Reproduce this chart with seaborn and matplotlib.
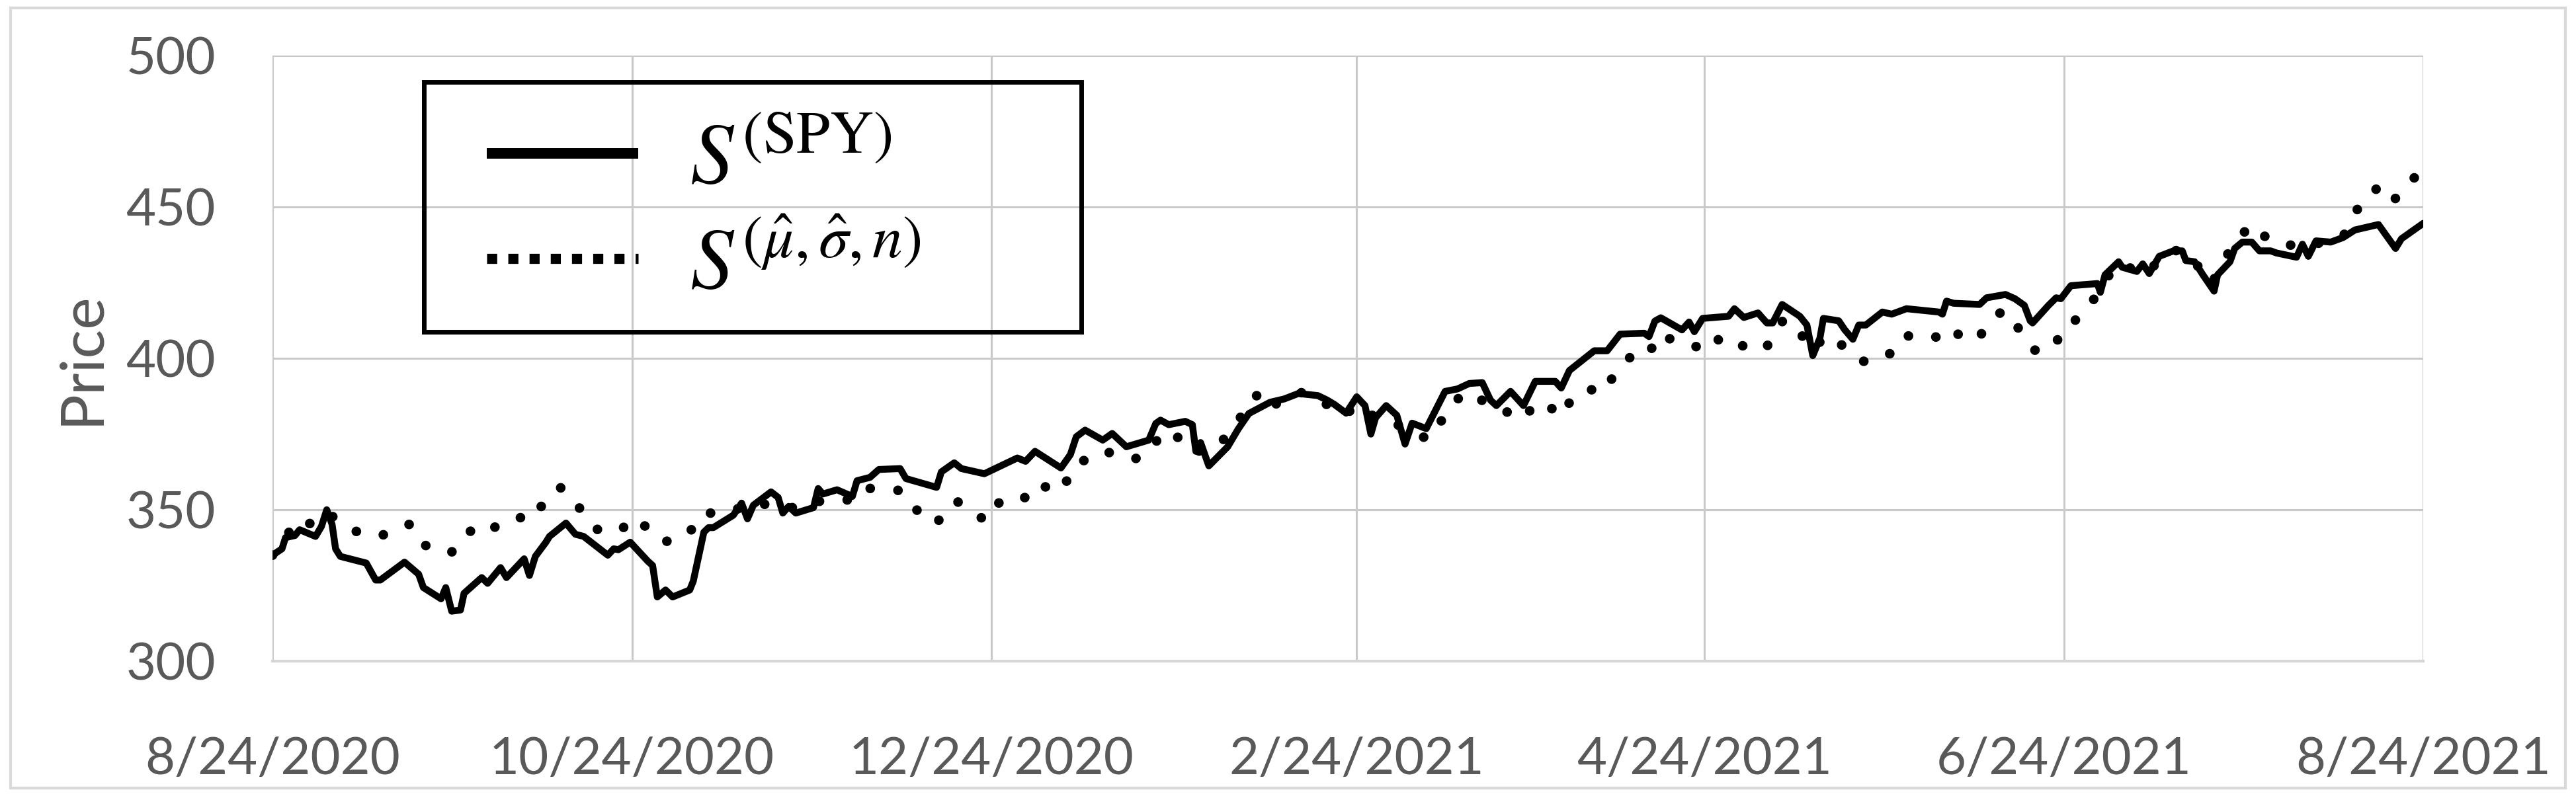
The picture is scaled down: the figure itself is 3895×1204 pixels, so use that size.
import pandas as pd
import numpy as np
import matplotlib
matplotlib.use('Agg')
import matplotlib.pyplot as plt
import matplotlib.dates as mdates
from matplotlib.lines import Line2D
from matplotlib.patches import Rectangle
import seaborn as sns

# dias contados a partir de 24/08/2020 e precos
start = pd.Timestamp('2020-08-24')

spy_days = [0, 1.6, 2.2, 3.8, 4.6, 7.3, 8.3, 9.2, 10.1, 10.7, 11.5, 15.9, 17.5, 18.3, 22.4, 24.8,
            25.6, 28.6, 29.4, 30.4, 31.9, 32.5, 35.5, 36.5, 38.7, 39.7, 42.7, 43.6, 44.6, 46.4,
            47.0, 49.8, 51.4, 52.8, 56.9, 57.9, 58.7, 60.7, 63.7, 64.5, 65.3, 66.7, 67.9, 70.8,
            71.4, 73.2, 74.0, 74.8, 78.2, 79.6, 80.6, 81.6, 84.6, 85.8, 86.6, 87.6, 88.8, 91.8,
            92.6, 93.4, 95.8, 98.4, 99.2, 101.4, 102.9, 106.5, 107.5, 112.7, 113.5, 115.7, 116.9,
            120.8, 126.4, 127.8, 129.4, 133.8, 135.4, 136.4, 137.9, 140.9, 142.5, 144.9, 148.7,
            149.9, 150.7, 152.1, 154.9, 156.1, 156.7, 157.5, 158.9, 162.1, 163.9, 165.7, 169.3,
            171.7, 174.1, 177.4, 179.0, 180.2, 182.2, 184.0, 185.4, 186.4, 187.2, 189.0, 190.8,
            192.2, 193.4, 195.8, 199.0, 201.1, 203.1, 205.3, 206.7, 207.7, 210.1, 212.3, 214.3,
            217.7, 218.7, 220.1, 224.3, 226.5, 228.7, 232.8, 233.6, 234.6, 235.6, 239.2, 240.4,
            241.3, 242.7, 247.1, 248.1, 249.7, 252.1, 253.6, 254.6, 256.2, 259.2, 260.4, 261.4,
            262.6, 263.2, 265.8, 266.8, 268.2, 269.2, 270.4, 273.2, 274.8, 277.3, 282.8, 283.4,
            284.1, 285.3, 289.7, 290.9, 294.1, 295.7, 297.3, 298.3, 298.7, 301.4, 302.7, 303.5,
            305.2, 309.7, 310.2, 311.0, 313.3, 313.9, 316.4, 317.4, 318.5, 320.2, 322.6, 324.1,
            324.7, 326.2, 327.6, 329.5, 330.1, 332.2, 333.0, 334.3, 335.9, 337.2, 339.1, 340.1,
            343.5, 344.5, 345.5, 346.8, 349.3, 351.4, 353.4, 357.4, 360.3, 361.3, 365.0]
spy_price = [335.0, 337.1, 340.8, 341.5, 343.4, 341.2, 344.5, 350.0, 345.2, 337.1, 334.6, 332.4,
             326.8, 326.8, 332.7, 328.7, 324.3, 320.6, 324.3, 316.5, 316.9, 322.4, 327.6, 325.7,
             330.9, 327.6, 333.8, 328.3, 334.6, 339.3, 341.2, 345.6, 341.9, 341.2, 335.0, 337.1,
             336.8, 339.3, 333.0, 331.6, 321.2, 323.5, 321.2, 323.5, 326.4, 342.6, 344.1, 344.1,
             348.2, 352.2, 347.0, 351.5, 355.9, 354.1, 348.9, 351.1, 348.9, 350.7, 357.0, 355.2,
             356.6, 354.4, 359.6, 360.7, 363.3, 363.6, 360.3, 357.4, 362.5, 365.5, 363.6, 361.9,
             367.1, 366.0, 369.3, 363.8, 368.2, 374.1, 376.3, 373.0, 375.2, 370.8, 373.0, 378.5,
             379.6, 378.1, 379.2, 378.1, 369.3, 372.2, 364.5, 370.8, 376.7, 381.8, 385.5, 386.6,
             388.4, 387.7, 386.2, 384.8, 381.9, 387.3, 384.4, 375.0, 380.4, 384.4, 381.2, 371.7,
             378.6, 376.8, 389.1, 389.9, 391.7, 392.0, 386.2, 384.4, 389.1, 384.4, 392.4, 392.4,
             390.2, 396.0, 402.5, 402.5, 408.0, 408.3, 407.2, 412.3, 413.4, 409.4, 412.0, 408.8,
             413.2, 413.9, 416.4, 413.5, 415.0, 411.7, 411.7, 417.8, 413.9, 411.0, 400.9, 406.6,
             413.2, 412.4, 409.5, 406.3, 411.0, 411.0, 415.3, 414.6, 416.4, 415.3, 414.6, 418.9,
             418.2, 417.8, 420.0, 421.1, 419.7, 417.5, 412.4, 411.7, 417.5, 420.0, 419.7, 424.0,
             424.7, 421.8, 427.6, 431.9, 430.1, 428.7, 431.2, 428.0, 433.7, 435.5, 435.5, 432.3,
             431.9, 427.6, 422.2, 427.6, 431.9, 436.3, 438.4, 438.4, 435.5, 435.5, 434.8, 433.4,
             437.7, 433.7, 438.8, 438.4, 439.9, 442.4, 444.2, 436.3, 439.5, 444.6]

model_days = [0, 2.0, 4.0, 6.9, 9.2, 10.5, 13.3, 16.5, 18.3, 21.4, 23.3, 25.0, 28.0, 30.4, 32.3,
              35.1, 37.2, 39.0, 42.1, 44.5, 46.2, 48.8, 51.1, 52.8, 55.2, 57.7, 59.4, 61.1, 63.9,
              65.9, 68.1, 71.0, 73.0, 75.1, 77.9, 80.2, 83.0, 87.0, 90.0, 93.0, 95.8, 98.8, 101.0,
              103.1, 106.0, 108.2, 110.0, 112.8, 114.7, 116.3, 119.1, 121.1, 123.0, 126.2, 128.2,
              130.2, 133.3, 135.2, 137.2, 139.7, 141.9, 143.7, 146.3, 149.3, 150.9, 153.1, 155.3,
              156.7, 159.1, 161.7, 163.9, 165.4, 168.3, 170.2, 171.9, 174.4, 177.8, 181.0, 185.2,
              186.8, 191.0, 196.2, 198.0, 199.9, 202.3, 204.5, 207.7, 210.0, 212.5, 214.3, 216.9,
              218.9, 220.5, 223.5, 225.5, 227.5, 229.6, 232.2, 233.8, 235.6, 238.6, 240.2, 241.9,
              244.5, 246.5, 248.4, 250.5, 253.1, 254.8, 256.4, 259.2, 260.6, 262.8, 264.7, 267.0,
              268.8, 270.6, 273.4, 275.0, 277.0, 279.4, 281.8, 283.6, 285.3, 287.7, 289.3, 291.2,
              293.8, 295.5, 297.3, 299.1, 301.5, 303.3, 305.4, 308.0, 309.7, 311.2, 313.1, 316.6,
              318.5, 320.4, 323.5, 326.2, 328.1, 329.1, 331.6, 333.5, 336.2, 337.8, 339.3, 340.9,
              344.5, 346.4, 349.3, 351.4, 353.0, 354.7, 357.4, 359.1, 360.5, 362.7, 365.0]
model_price = [335.0, 340.0, 346.5, 345.2, 348.9, 347.4, 343.4, 341.5, 341.2, 344.5, 345.2, 339.3,
               336.0, 336.0, 341.2, 344.9, 343.4, 346.3, 347.4, 347.1, 353.3, 357.4, 353.9, 348.2,
               343.4, 344.9, 343.8, 347.4, 343.7, 339.7, 339.5, 343.2, 348.9, 348.9, 350.6, 350.0,
               352.0, 350.5, 351.0, 352.9, 353.7, 352.9, 357.0, 357.2, 356.6, 353.7, 347.8, 345.7,
               351.5, 352.6, 348.9, 346.3, 352.0, 354.9, 353.7, 358.4, 355.7, 360.6, 366.3, 366.0,
               368.9, 368.6, 366.7, 370.0, 375.9, 374.1, 373.3, 369.3, 369.7, 373.7, 378.9, 385.5,
               389.4, 384.8, 387.0, 388.8, 386.6, 381.2, 384.4, 380.8, 378.0, 373.2, 378.3, 384.1,
               388.8, 387.0, 383.3, 382.0, 380.1, 385.5, 383.7, 380.8, 387.0, 389.9, 388.4, 393.8,
               398.9, 403.6, 402.5, 408.3, 404.7, 404.3, 403.8, 407.7, 404.1, 405.2, 403.2, 402.7,
               407.0, 412.8, 409.2, 403.0, 405.6, 407.7, 403.0, 399.8, 398.7, 401.4, 401.6, 407.4,
               407.4, 407.7, 405.3, 408.5, 406.8, 405.9, 411.7, 416.0, 412.4, 406.8, 402.7, 407.0,
               405.9, 411.7, 416.0, 421.5, 426.2, 431.2, 429.0, 428.3, 433.7, 435.9, 431.9, 426.9,
               424.7, 433.7, 439.9, 444.2, 440.6, 439.2, 437.4, 437.4, 437.7, 438.8, 440.2, 446.4,
               452.2, 456.5, 451.8, 453.0, 458.1, 462.6]

tick_dates = ['2020-08-24', '2020-10-24', '2020-12-24', '2021-02-24',
              '2021-04-24', '2021-06-24', '2021-08-24']
tick_labels = ['8/24/2020', '10/24/2020', '12/24/2020', '2/24/2021',
               '4/24/2021', '6/24/2021', '8/24/2021']
minor_dates = ['2020-09-24', '2020-11-24', '2021-01-24', '2021-03-24',
               '2021-05-24', '2021-07-24']
y_ticks = [300, 350, 400, 450, 500]

spy = pd.DataFrame({'date': start + pd.to_timedelta(spy_days, unit='D'), 'price': spy_price})
model = pd.DataFrame({'date': start + pd.to_timedelta(model_days, unit='D'), 'price': model_price})

sns.set_style('white')
plt.rcParams['font.family'] = ['Lato', 'DejaVu Sans']
plt.rcParams['mathtext.fontset'] = 'stix'

grid_color = '#c9c9c9'
text_color = '#595959'

fig = plt.figure(figsize=(38.95, 12.04), dpi=100)
ax = fig.add_axes([0.1058, 0.1694, 0.8349, 0.7608])

sns.lineplot(data=spy, x='date', y='price', ax=ax, color='black', linewidth=7.5,
             estimator=None, sort=False, solid_joinstyle='round')
sns.lineplot(data=model, x='date', y='price', ax=ax, color='black', linewidth=10.5,
             estimator=None, sort=False, linestyle=(0, (0.01, 2.9)), dash_capstyle='round')

ax.set_xlim(pd.Timestamp(tick_dates[0]), pd.Timestamp(tick_dates[-1]))
ax.set_ylim(300, 500)
ax.set_yticks(y_ticks)
ax.xaxis.set_major_locator(mdates.ticker.FixedLocator(mdates.date2num(pd.to_datetime(tick_dates))))
ax.xaxis.set_minor_locator(mdates.ticker.FixedLocator(mdates.date2num(pd.to_datetime(minor_dates))))
ax.set_xticklabels(tick_labels)

ax.grid(True, which='major', color=grid_color, linewidth=2.2)
ax.set_axisbelow(True)
for side in ['top', 'left', 'right']:
    ax.spines[side].set_visible(False)
ax.spines['bottom'].set_color('#d6d6d6')
ax.spines['bottom'].set_linewidth(3)

ax.tick_params(axis='x', which='major', direction='inout', length=32, width=2.2,
               color=grid_color, labelsize=56, labelcolor=text_color, pad=66)
ax.tick_params(axis='x', which='minor', direction='in', length=13, width=2.2, color=grid_color)
ax.tick_params(axis='y', length=0, labelsize=56, labelcolor=text_color, pad=62)

ax.set_xlabel('')
ax.set_ylabel('Price', fontsize=66, color=text_color, labelpad=18)

# cadre de la legende (style Excel)
fig.patches.append(Rectangle((0.1646, 0.5831), 0.2552, 0.3140, transform=fig.transFigure,
                             fill=False, edgecolor='black', linewidth=5, zorder=5))
handles = [Line2D([], [], color='black', linewidth=11.5, solid_capstyle='butt'),
           Line2D([], [], color='black', linewidth=11, linestyle=(0, (1.0, 1.1)),
                  dash_capstyle='butt')]
labels = [r'$S^{(\mathrm{SPY})}$', r'$S^{(\hat{\mu},\hat{\sigma},n)}$']
leg = fig.legend(handles, labels, loc='upper left', bbox_to_anchor=(0.189, 0.85),
                 frameon=False, fontsize=94, handlelength=1.75, handletextpad=0.6,
                 labelspacing=0.3, borderpad=0, borderaxespad=0)
for t in leg.get_texts():
    t.set_color('black')

fig.patches.append(Rectangle((0.004, 0.01), 0.992, 0.98, transform=fig.transFigure,
                             fill=False, edgecolor='#d9d9d9', linewidth=3))

fig.savefig('out.png', dpi=100)
